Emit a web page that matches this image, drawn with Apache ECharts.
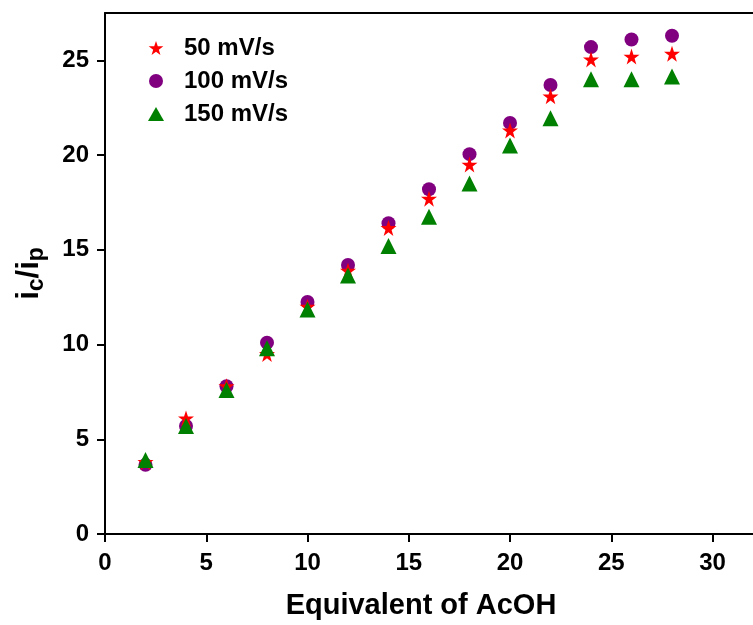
<!DOCTYPE html>
<html>
<head>
<meta charset="utf-8">
<script src="https://cdn.jsdelivr.net/npm/echarts@6/dist/echarts.min.js"></script>
<style>html,body{margin:0;padding:0;background:#fff}#c{width:753px;height:625px}</style>
</head>
<body>
<div id="c"></div>
<script>
const xValues = [2,4,6,8,10,12,14,16,18,20,22,24,26,28];
const s50  = [3.8,6.1,7.8,9.5,12.0,13.9,16.15,17.7,19.5,21.3,23.1,25.05,25.2,25.35];
const s100 = [3.65,5.7,7.8,10.1,12.25,14.2,16.4,18.2,20.05,21.7,23.7,25.7,26.1,26.3];
const s150 = [3.9,5.7,7.6,9.8,11.85,13.65,15.2,16.75,18.5,20.5,21.95,24.0,24.0,24.15];
const seriesNames = ['50 mV/s','100 mV/s','150 mV/s'];
const xTicks = [0,5,10,15,20,25,30];
const yTicks = [0,5,10,15,20,25];

const star = 'path://M50,0 L61.8,35.3 L98.5,35.3 L68.6,57.3 L79.4,92.7 L50,70.7 L20.6,92.7 L31.4,57.3 L1.5,35.3 L38.2,35.3 Z';
const pair = a => xValues.map((x,i)=>[x,a[i]]);
const font = 'Liberation Sans, Arial, sans-serif';
const axisLineStyle = {color:'#000', width:2};

const chart = echarts.init(document.getElementById('c'), null, {renderer:'canvas'});
chart.setOption({
  animation:false,
  backgroundColor:'#fff',
  grid:{left:105, right:0, top:13, bottom:84, containLabel:false},
  legend:{
    orient:'vertical', left:143, top:31, itemGap:9,
    itemWidth:16, itemHeight:14,
    textStyle:{fontFamily:font, fontWeight:'bold', fontSize:24, color:'#000', padding:[0,0,0,15]},
    data:[
      {name:seriesNames[0], icon:star, itemStyle:{color:'#ff0000'}},
      {name:seriesNames[1], icon:'circle', itemStyle:{color:'#800080'}},
      {name:seriesNames[2], icon:'triangle', itemStyle:{color:'#008000'}}
    ]
  },
  xAxis:[{
    type:'value', min:0, max:32, interval:5,
    name:'Equivalent of AcOH', nameLocation:'middle', nameGap:57,
    nameTextStyle:{fontFamily:font, fontWeight:'bold', fontSize:29, color:'#000', padding:[0,16,0,0]},
    axisLine:{show:true, lineStyle:axisLineStyle},
    axisTick:{show:true, inside:false, length:8, lineStyle:axisLineStyle, customValues:xTicks},
    axisLabel:{fontFamily:font, fontWeight:'bold', fontSize:24, color:'#000', margin:17, customValues:xTicks},
    splitLine:{show:false}
  },{
    type:'value', position:'top', min:0, max:32,
    axisLine:{show:true, onZero:false, lineStyle:axisLineStyle},
    axisTick:{show:false}, axisLabel:{show:false}, splitLine:{show:false}
  }],
  yAxis:{
    type:'value', min:0, max:27.5, interval:5,
    name:'{i|i}{s|c}{i|/i}{s|p}', nameLocation:'middle', nameGap:57, nameRotate:90,
    nameTextStyle:{
      rich:{
        i:{fontFamily:font, fontWeight:'bold', fontSize:31, color:'#000'},
        s:{fontFamily:font, fontWeight:'bold', fontSize:23, color:'#000', padding:[14,0,0,0]}
      }
    },
    axisLine:{show:true, lineStyle:axisLineStyle},
    axisTick:{show:true, inside:false, length:8, lineStyle:axisLineStyle, customValues:yTicks},
    axisLabel:{fontFamily:font, fontWeight:'bold', fontSize:24, color:'#000', margin:16, customValues:yTicks},
    splitLine:{show:false}
  },
  series:[
    {name:seriesNames[0], type:'scatter', symbol:star, symbolSize:16, itemStyle:{color:'#ff0000', opacity:1}, data:pair(s50), z:3},
    {name:seriesNames[1], type:'scatter', symbol:'circle', symbolSize:14, itemStyle:{color:'#800080', opacity:1}, data:pair(s100), z:2},
    {name:seriesNames[2], type:'scatter', symbol:'triangle', symbolSize:16, itemStyle:{color:'#008000', opacity:1}, data:pair(s150), z:4}
  ]
});
</script>
</body>
</html>
